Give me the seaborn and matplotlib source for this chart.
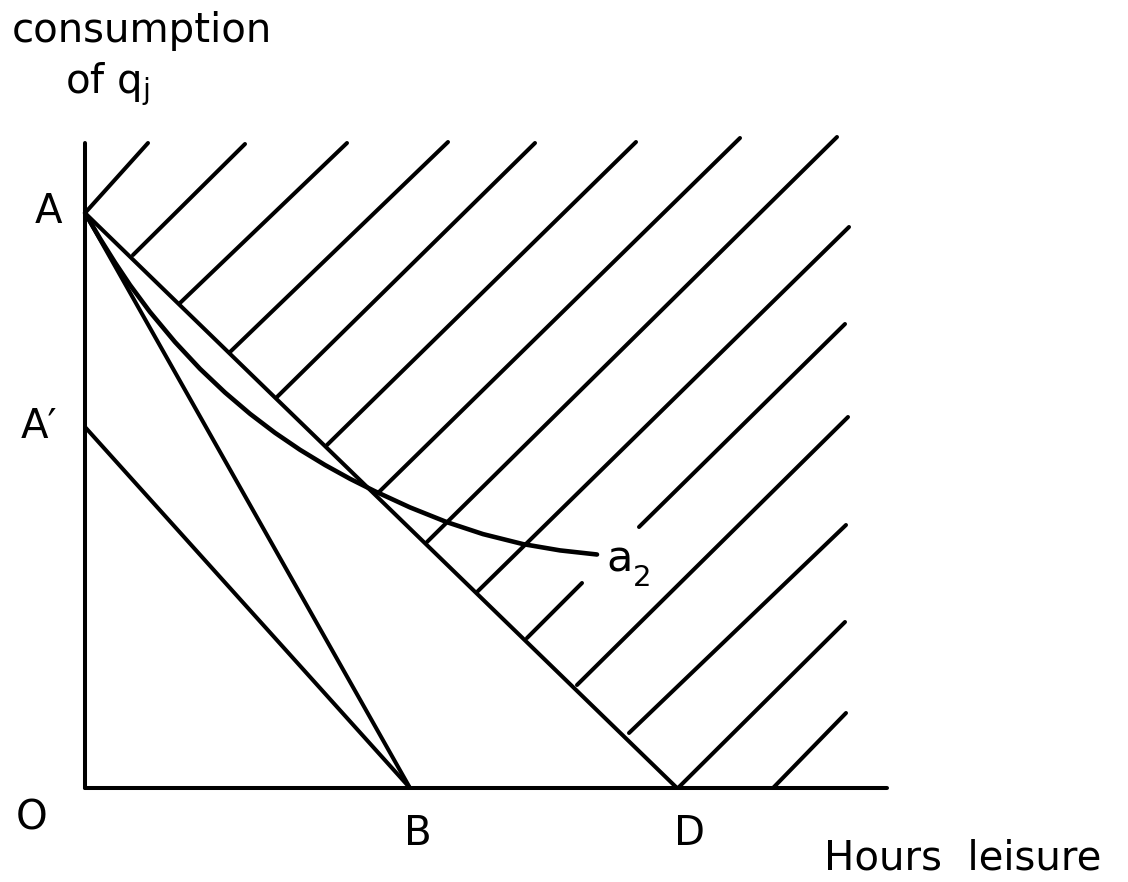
import pandas as pd
import matplotlib
matplotlib.use("Agg")
import matplotlib.pyplot as plt
import seaborn as sns

sns.set_theme(style="white")
plt.rcParams['font.family'] = ['DejaVu Sans']
plt.rcParams['text.color'] = 'black'

# diagram points (O is the origin)
A_y = 57.5          # A on the vertical axis
A_prime_y = 36.1    # A'
B_x = 32.5
D_x = 59.2
x_axis_end = 80.2
y_axis_top = 64.5

# indifference curve a2
curve_x = [0.0, 1.5, 3.0, 4.5, 6.5, 9.0, 11.5, 14.0, 16.5, 19.0, 21.5, 24.0,
           26.5, 29.0, 32.5, 36.2, 39.8, 43.8, 47.5, 51.2]
curve_y = [57.5, 54.95, 52.55, 50.3, 47.6, 44.6, 41.92, 39.55, 37.42, 35.52, 33.82, 32.3,
           30.92, 29.67, 28.06, 26.58, 25.39, 24.39, 23.76, 23.35]

# hatching above AD (one segment per entry, the 10th line is broken by the label)
hatch_x0 = [0.0, 4.8, 9.5, 14.5, 19.2, 24.2, 29.4, 34.2, 39.2, 44.2, 55.4, 49.2, 54.4, 59.3, 68.8]
hatch_y0 = [57.5, 53.3, 48.5, 43.6, 39.1, 34.3, 29.6, 24.6, 19.6, 15.0, 26.1, 10.3, 5.5, 0.0, 0.0]
hatch_x1 = [6.3, 16.0, 26.2, 36.3, 45.0, 55.1, 65.5, 75.2, 76.4, 49.7, 76.0, 76.3, 76.1, 76.0, 76.1]
hatch_y1 = [64.5, 64.4, 64.5, 64.6, 64.5, 64.6, 65.0, 65.1, 56.1, 20.5, 46.4, 37.1, 26.3, 16.6, 7.5]


def build_segments():
    rows = []
    straight = [
        ('y_axis', [(0, 0), (0, y_axis_top)]),
        ('x_axis', [(0, 0), (x_axis_end, 0)]),
        ('AD', [(0, A_y), (D_x, 0)]),
        ('AB', [(0, A_y), (B_x, 0)]),
        ('ApB', [(0, A_prime_y), (B_x, 0)]),
    ]
    for name, pts in straight:
        for i, (x, y) in enumerate(pts):
            rows.append({'seg': name, 'order': i, 'x': x, 'y': y})
    for k in range(len(hatch_x0)):
        rows.append({'seg': f'h{k}', 'order': 0, 'x': hatch_x0[k], 'y': hatch_y0[k]})
        rows.append({'seg': f'h{k}', 'order': 1, 'x': hatch_x1[k], 'y': hatch_y1[k]})
    return pd.DataFrame(rows)


def plot_diagram():
    fig = plt.figure(figsize=(11.28, 8.82), dpi=100)
    ax = fig.add_axes([0, 0, 1, 1])

    seg = build_segments()
    sns.lineplot(data=seg, x='x', y='y', units='seg', estimator=None, sort=False,
                 color='black', lw=2.9, solid_capstyle='round', ax=ax)

    curve = pd.DataFrame({'x': curve_x, 'y': curve_y})
    sns.lineplot(data=curve, x='x', y='y', sort=False, estimator=None,
                 color='black', lw=3.3, solid_capstyle='round',
                 solid_joinstyle='round', ax=ax)

    fs = 29
    ax.text(-7.3, 74.6, 'consumption', fontsize=fs, ha='left', va='baseline')
    ax.text(-2.0, 69.5, r'of q$_\mathregular{j}$', fontsize=fs, ha='left', va='baseline')
    ax.text(-3.7, 56.5, 'A', fontsize=fs, ha='center', va='baseline')
    ax.text(-4.6, 35.0, 'A\u2032', fontsize=fs, ha='center', va='baseline')
    ax.text(-5.3, -4.2, 'O', fontsize=fs, ha='center', va='baseline')
    ax.text(33.3, -5.7, 'B', fontsize=fs, ha='center', va='baseline')
    ax.text(60.5, -5.7, 'D', fontsize=fs, ha='center', va='baseline')
    ax.text(73.9, -8.1, 'Hours  leisure', fontsize=fs, ha='left', va='baseline')
    ax.text(52.1, 21.6, 'a', fontsize=31, ha='left', va='baseline')
    ax.text(54.8, 20.2, '2', fontsize=21, ha='left', va='baseline')

    ax.set_xlim(-8.5, 104.3)
    ax.set_ylim(-9.4, 78.8)
    ax.axis('off')
    fig.savefig('out.png', dpi=100, facecolor='white')
    plt.close(fig)


if __name__ == "__main__":
    plot_diagram()
